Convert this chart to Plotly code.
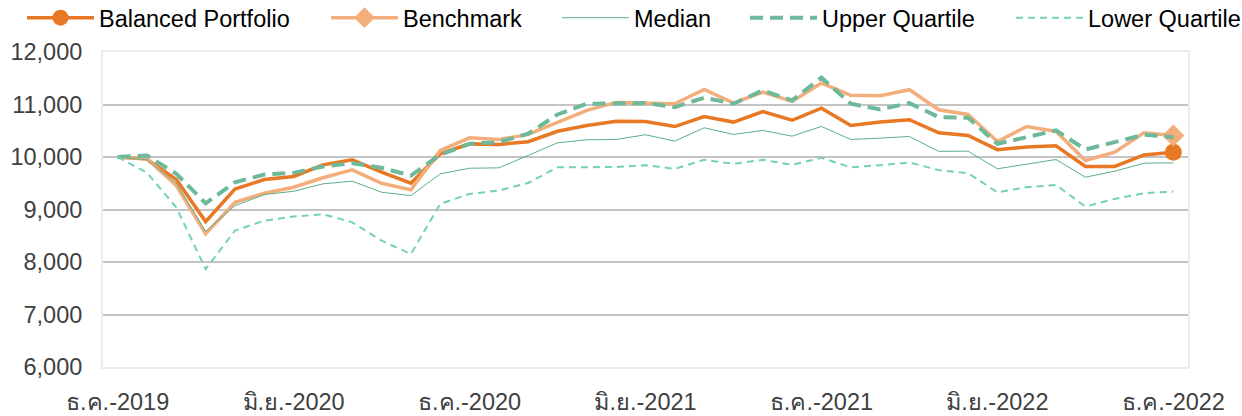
import plotly.graph_objects as go

months = ["ธ.ค.-2019", "ม.ค.-2020", "ก.พ.-2020", "มี.ค.-2020", "เม.ย.-2020", "พ.ค.-2020",
          "มิ.ย.-2020", "ก.ค.-2020", "ส.ค.-2020", "ก.ย.-2020", "ต.ค.-2020", "พ.ย.-2020",
          "ธ.ค.-2020", "ม.ค.-2021", "ก.พ.-2021", "มี.ค.-2021", "เม.ย.-2021", "พ.ค.-2021",
          "มิ.ย.-2021", "ก.ค.-2021", "ส.ค.-2021", "ก.ย.-2021", "ต.ค.-2021", "พ.ย.-2021",
          "ธ.ค.-2021", "ม.ค.-2022", "ก.พ.-2022", "มี.ค.-2022", "เม.ย.-2022", "พ.ค.-2022",
          "มิ.ย.-2022", "ก.ค.-2022", "ส.ค.-2022", "ก.ย.-2022", "ต.ค.-2022", "พ.ย.-2022",
          "ธ.ค.-2022"]

tick_labels = ["ธ.ค.-2019", "มิ.ย.-2020", "ธ.ค.-2020", "มิ.ย.-2021", "ธ.ค.-2021",
               "มิ.ย.-2022", "ธ.ค.-2022"]

balanced = [10000, 9960, 9570, 8770, 9390, 9570, 9630, 9850, 9945, 9710, 9500, 10060,
            10250, 10240, 10290, 10490, 10600, 10680, 10675, 10580, 10770, 10665, 10865,
            10700, 10930, 10600, 10665, 10710, 10460, 10410, 10140, 10190, 10215, 9820,
            9820, 10040, 10090]

benchmark = [10000, 9965, 9456, 8534, 9138, 9310, 9424, 9605, 9755, 9500, 9374, 10124,
             10366, 10334, 10430, 10665, 10887, 11040, 11034, 11015, 11288, 11027, 11237,
             11059, 11409, 11174, 11168, 11282, 10900, 10811, 10296, 10582, 10487, 9933,
             10092, 10462, 10410]

median = [10000, 9946, 9500, 8584, 9074, 9284, 9347, 9489, 9539, 9328, 9265, 9679,
          9786, 9794, 10030, 10271, 10328, 10334, 10424, 10302, 10557, 10430, 10506,
          10397, 10582, 10334, 10359, 10391, 10108, 10111, 9775, 9870, 9952, 9615,
          9729, 9882, 9889]

upper = [10000, 10029, 9679, 9118, 9519, 9666, 9698, 9819, 9882, 9794, 9647, 10042,
         10252, 10283, 10443, 10810, 11015, 11015, 11027, 10950, 11130, 11015, 11269,
         11078, 11511, 11015, 10906, 11027, 10760, 10748, 10252, 10378, 10506, 10143,
         10283, 10424, 10378]

lower = [10000, 9698, 9042, 7866, 8597, 8788, 8865, 8910, 8756, 8406, 8152, 9107,
         9297, 9361, 9505, 9805, 9805, 9810, 9844, 9774, 9946, 9870, 9946, 9851,
         9984, 9805, 9844, 9895, 9750, 9691, 9328, 9424, 9469, 9055, 9202, 9310,
         9342]

FONT = "Liberation Sans, Arial, sans-serif"
n = len(months)
last = [n - 1]

fig = go.Figure()
fig.add_trace(go.Scatter(
    x=months, y=balanced, name="Balanced Portfolio", mode="lines+markers",
    line=dict(color="#E97824", width=3.5),
    marker=dict(size=17, color="#E97824", symbol="circle", line=dict(width=0)),
    selectedpoints=last, unselected=dict(marker=dict(opacity=0)),
    legendwidth=222))
fig.add_trace(go.Scatter(
    x=months, y=benchmark, name="Benchmark", mode="lines+markers",
    line=dict(color="#F3AE7C", width=3.5),
    marker=dict(size=17, color="#F3AE7C", symbol="diamond", line=dict(width=0)),
    selectedpoints=last, unselected=dict(marker=dict(opacity=0)),
    legendwidth=149))
fig.add_trace(go.Scatter(
    x=months, y=median, name="Median", mode="lines",
    line=dict(color="#5BAE8C", width=1), legendwidth=106))
fig.add_trace(go.Scatter(
    x=months, y=upper, name="Upper Quartile", mode="lines",
    line=dict(color="#6DB99A", width=4, dash="13px,7px"), legendwidth=184))
fig.add_trace(go.Scatter(
    x=months, y=lower, name="Lower Quartile", mode="lines",
    line=dict(color="#73D2B4", width=2, dash="7px,5px"), legendwidth=150))

# plot area: left 103, right edge at 1188 (width 1085); margin r kept small so the
# one-row legend has room, and the x domain is narrowed to the same right edge
M_L, M_R, M_T, M_B = 103, 10, 52, 49
plot_w = 1242 - M_L - M_R
x_dom_end = 1085 / plot_w

fig.update_layout(
    width=1242, height=416,
    margin=dict(l=M_L, r=M_R, t=M_T, b=M_B, autoexpand=False),
    paper_bgcolor="white", plot_bgcolor="white",
    font=dict(family=FONT, size=23.5, color="#000000"),
    showlegend=True,
    legend=dict(orientation="h", xref="paper", yref="paper",
                x=-81 / plot_w, y=1.178, xanchor="left", yanchor="top",
                itemwidth=67,
                font=dict(family=FONT, size=23.5, color="#000000"),
                bgcolor="rgba(0,0,0,0)", tracegroupgap=0),
    xaxis=dict(type="category", categoryorder="array", categoryarray=months,
               domain=[0, x_dom_end],
               range=[-0.5, n - 0.5], tickmode="array", tickvals=tick_labels,
               ticktext=tick_labels, showgrid=False, ticks="",
               showline=True, linecolor="#ECECEC", linewidth=2, mirror=True,
               tickfont=dict(family=FONT, size=23.5, color="#404040"),
               ticklabelstandoff=13),
    yaxis=dict(range=[6000, 12000], tickvals=[6000, 7000, 8000, 9000, 10000, 11000, 12000],
               tickformat=",d", showgrid=True, gridcolor="#C4C4C4", gridwidth=2,
               zeroline=False, ticks="",
               showline=True, linecolor="#ECECEC", linewidth=2, mirror=True,
               tickfont=dict(family=FONT, size=23.5, color="#404040"),
               ticklabelstandoff=14),
)

fig.write_html("out.html", config={"displayModeBar": False},
               post_script="document.body.style.margin='0';")
